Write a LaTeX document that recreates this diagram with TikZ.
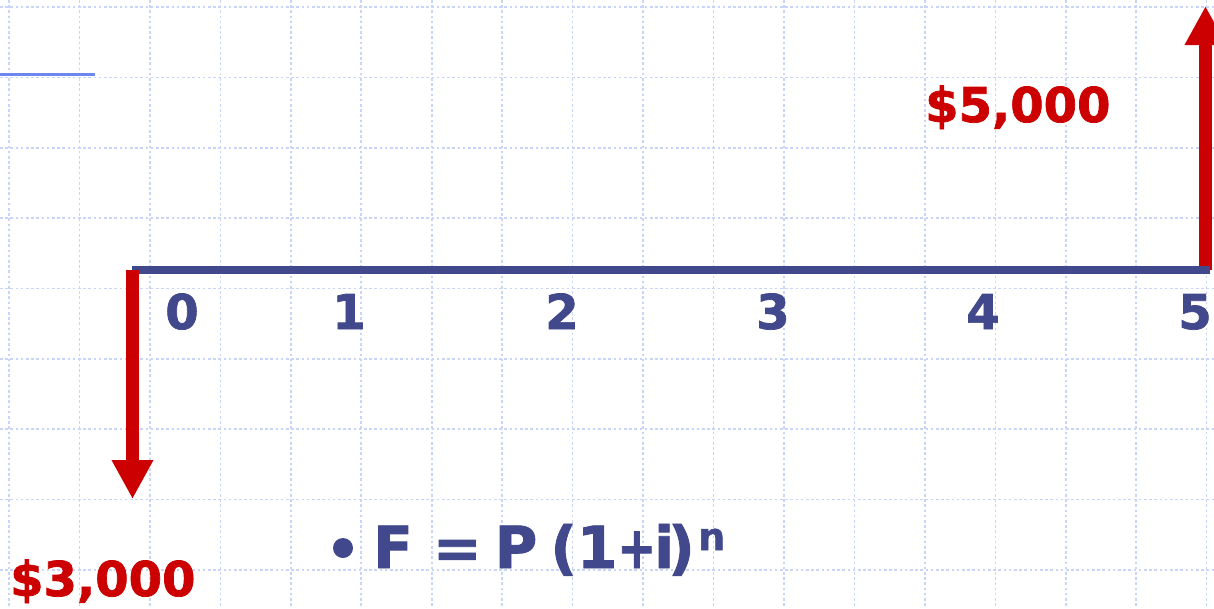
\documentclass[tikz,border=0pt]{standalone}
\usepackage{fontspec}
\setmainfont{DejaVu Sans}
\newfontfamily\heavy{DejaVu Sans Bold}[FakeBold=1.5]
\usetikzlibrary{arrows.meta}
\definecolor{gridc}{RGB}{200,213,248}
\definecolor{navy}{RGB}{65,72,140}
\definecolor{cfred}{RGB}{204,0,0}
\definecolor{topblue}{RGB}{110,135,238}
\tikzset{
  gridline/.style={gridc, line width=1.6pt, dash pattern=on 2.6pt off 2.6pt},
  num/.style={navy, font=\heavy\fontsize{48}{56}\selectfont, inner sep=0pt, anchor=base},
  money/.style={cfred, font=\heavy\fontsize{48}{56}\selectfont, inner sep=0pt, anchor=base west},
  flow/.style={cfred, line width=12.5pt, -{Triangle[length=39pt,width=39pt]}},
}
\begin{document}
\begin{tikzpicture}[x=1pt,y=-1pt]
\useasboundingbox (0,0) rectangle (1214,608);
\fill[white] (0,0) rectangle (1214,608);
% grid
\foreach \k in {0,...,17} {
  \draw[gridline] (9+70.45*\k,0) -- (9+70.45*\k,608);
}
\foreach \k in {0,...,8} {
  \draw[gridline] (0,7+70.35*\k) -- (1214,7+70.35*\k);
}
% top-left rule
\coordinate (r1) at (0,74.5);
\coordinate (r2) at (95,74.5);
\draw[topblue, line width=3pt] (r1) -- (r2);
% coordinates
\coordinate (t0) at (132,270);
\coordinate (t5) at (1210,270);
\coordinate (dstart) at (132.5,270);
\coordinate (dend) at (132.5,499);
\coordinate (ustart) at (1205.5,270);
\coordinate (uend) at (1205.5,6);
% up arrow
\draw[flow] (ustart) -- (uend);
% timeline
\draw[navy, line width=8.5pt] (t0) -- (t5);
% down arrow
\draw[flow] (dstart) -- (dend);
% period numbers
\node[num] (n0) at (182,329) {0};
\node[num] (n1) at (349,329) {1};
\node[num] (n2) at (562,329) {2};
\node[num] (n3) at (773,329) {3};
\node[num] (n4) at (983,329) {4};
\node[num] (n5) at (1195,329) {5};
% amounts
\node[money] (m5) at (925,122) {\$5,000};
\node[money] (m3) at (10,596) {\$3,000};
% formula
\fill[navy] (343,548) circle (10);
\node[navy, font=\heavy\fontsize{58}{70}\selectfont, inner sep=0pt, anchor=base west] (f) at (373,568)
  {F = \hspace{-7pt}P \hspace{-7pt}(1\scalebox{0.8}[1]{+}\hspace{-2pt}i\hspace{-6pt})};
\node[navy, font=\heavy\fontsize{38}{40}\selectfont, inner sep=0pt, anchor=base west] (fn) at (698,550) {n};
\end{tikzpicture}
\end{document}
